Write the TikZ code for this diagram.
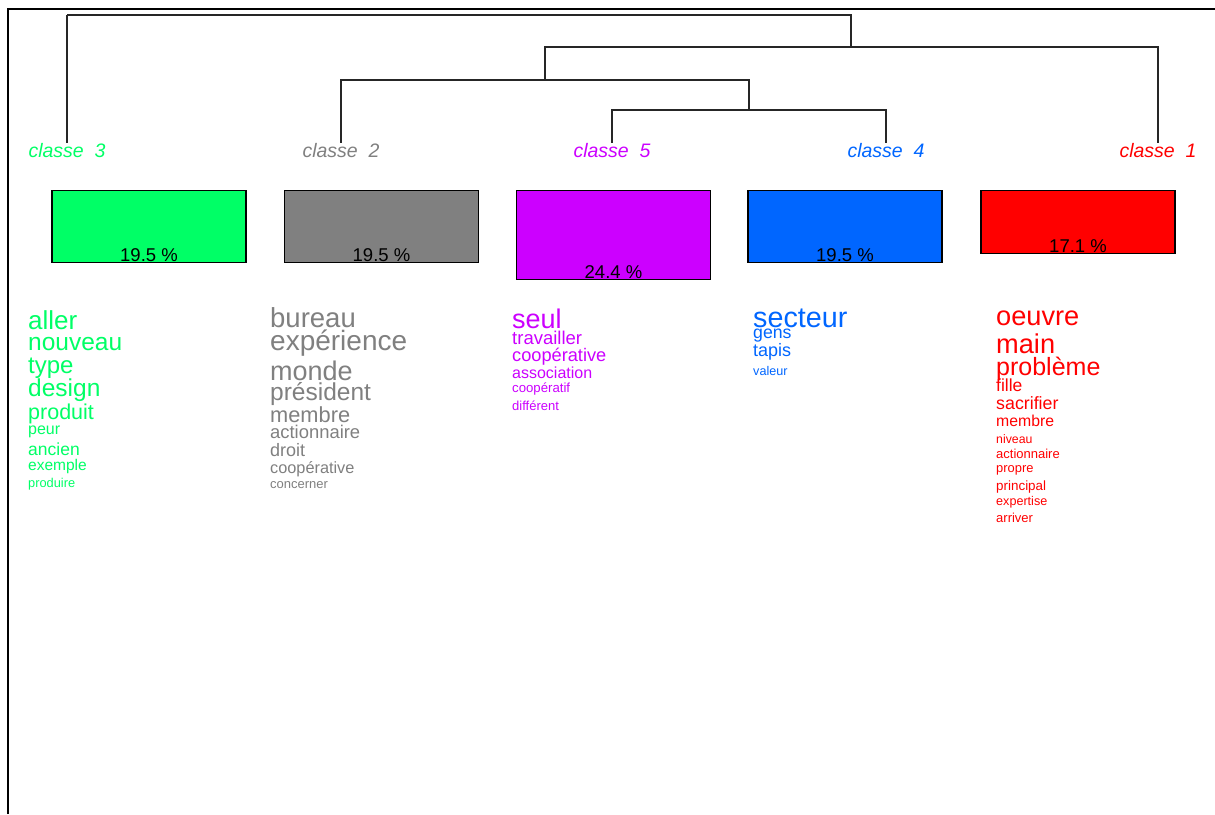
\documentclass[tikz,border=0pt]{standalone}
\usepackage{fontspec}
\setmainfont{Liberation Sans}
\newcommand\fsz[1]{\fontsize{#1}{#1}\selectfont}
\definecolor{clgreen}{HTML}{00FF66}
\definecolor{clgray}{HTML}{808080}
\definecolor{clmag}{HTML}{CC00FF}
\definecolor{clblue}{HTML}{0066FF}
\definecolor{clred}{HTML}{FF0000}
\begin{document}
\begin{tikzpicture}[x=1pt,y=-1pt,
  tree/.style={line width=1.5pt,draw=black!85},
  cls/.style={anchor=base,inner sep=0pt,outer sep=0pt,font=\fsz{19.5}\itshape},
  box/.style={draw=black,line width=1.4pt,minimum width=194pt,inner sep=0pt,anchor=north},
  pct/.style={anchor=base,inner sep=0pt,font=\fsz{18.5}},
  wd/.style={anchor=base west,inner sep=0pt}]
\useasboundingbox (0,0) rectangle (1215,814);
\fill[white] (0,0) rectangle (1215,814);
% outer frame
\draw[line width=2pt] (8,814) -- (8,9) -- (1215,9);

% class labels (dendrogram leaves)
\node[cls,text=clgreen] (c3) at (67,157) {classe\ \ 3};
\node[cls,text=clgray]  (c2) at (341,157) {classe\ \ 2};
\node[cls,text=clmag]   (c5) at (612,157) {classe\ \ 5};
\node[cls,text=clblue]  (c4) at (886,157) {classe\ \ 4};
\node[cls,text=clred]   (c1) at (1158,157) {classe\ \ 1};

% merge points
\coordinate (m45) at (749,110);
\coordinate (m245) at (545,80);
\coordinate (m1245) at (851,47);
\coordinate (root) at (67,15);

\draw[tree] (c5.north) |- (m45) -| (c4.north);
\draw[tree] (m45) |- (m245);
\draw[tree] (c2.north) |- (m245);
\draw[tree] (m245) |- (m1245);
\draw[tree] (c1.north) |- (m1245);
\draw[tree] (m1245) |- (root);
\draw[tree] (c3.north) -- (root);

% class size boxes
\node[box,fill=clgreen,minimum height=72pt] (b3) at (149,190) {};
\node[box,fill=clgray, minimum height=72pt] (b2) at (381.5,190) {};
\node[box,fill=clmag,  minimum height=89pt] (b5) at (613.5,190) {};
\node[box,fill=clblue, minimum height=72pt] (b4) at (845,190) {};
\node[box,fill=clred,  minimum height=63pt] (b1) at (1078,190) {};
\node[pct] (p3) at ([yshift=2pt]b3.south) {19.5 \%};
\node[pct] (p2) at ([yshift=2pt]b2.south) {19.5 \%};
\node[pct] (p5) at ([yshift=2pt]b5.south) {24.4 \%};
\node[pct] (p4) at ([yshift=2pt]b4.south) {19.5 \%};
\node[pct] (p1) at ([yshift=2pt]b1.south) {17.1 \%};

% characteristic words, classe 3
\foreach \t/\s/\y [count=\i] in {aller/26/329, nouveau/24.5/350, type/24/373,
  design/24.5/396, produit/21.5/419, peur/16/434, ancien/17.5/455,
  exemple/15.5/470, produire/12.8/487}
  \node[wd,text=clgreen] (w3-\i) at (28,\y) {\fsz{\s}\t};
% classe 2
\foreach \t/\s/\y [count=\i] in {bureau/27.5/327, expérience/28/350, monde/27/380,
  président/24.5/400, membre/21.8/422.5, actionnaire/18.4/438.5, droit/18/456.5,
  coopérative/16.3/473, concerner/13/488}
  \node[wd,text=clgray] (w2-\i) at (270,\y) {\fsz{\s}\t};
% classe 5
\foreach \t/\s/\y [count=\i] in {seul/27/328, travailler/18.5/344, coopérative/18.2/361,
  association/16/378, coopératif/13.2/392, différent/13/410.5}
  \node[wd,text=clmag] (w5-\i) at (512,\y) {\fsz{\s}\t};
% classe 4
\foreach \t/\s/\y [count=\i] in {secteur/28.7/327, gens/17.7/338.5, tapis/18/356.5,
  valeur/12.6/375}
  \node[wd,text=clblue] (w4-\i) at (753,\y) {\fsz{\s}\t};
% classe 1
\foreach \t/\s/\y [count=\i] in {oeuvre/27.2/325, main/27.2/353, problème/25/375,
  fille/17.5/391, sacrifier/17.8/409, membre/15.8/426.5, niveau/12.3/443,
  actionnaire/13/458, propre/12.9/472, principal/13.4/490, expertise/12.6/505,
  arriver/13/522.5}
  \node[wd,text=clred] (w1-\i) at (996,\y) {\fsz{\s}\t};
\end{tikzpicture}
\end{document}
